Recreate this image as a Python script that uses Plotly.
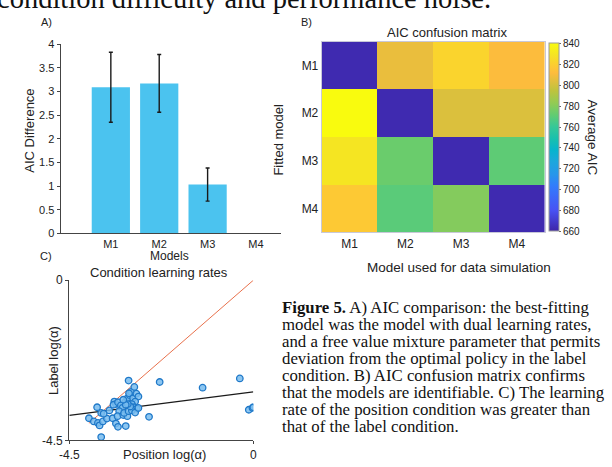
import plotly.graph_objects as go

W, H = 612, 467

# ---------------- data ----------------
models = ["M1", "M2", "M3", "M4"]
aic_diff = [3.09, 3.17, 1.03, 0.0]
aic_err = [0.74, 0.61, 0.35, None]

fitted_models = ["M1", "M2", "M3", "M4"]
sim_models = ["M1", "M2", "M3", "M4"]
aic_matrix = [
    [662, 806, 822, 811],
    [840, 662, 802, 802],
    [829, 773, 662, 770],
    [817, 769, 779, 662],
]
cbar_ticks = [660, 680, 700, 720, 740, 760, 780, 800, 820, 840]

position_log_alpha = [
    -3.05, -2.29, -1.24, -0.33, -0.11, -0.02, 0.00, -2.55, -3.72, -4.02,
    -3.82, -3.90, -3.80, -3.76, -3.68, -3.58, -3.72, -3.66, -3.52, -3.44,
    -3.36, -3.31, -3.12, -3.40, -3.36, -3.42, -3.31, -3.24, -3.20, -3.28,
    -3.32, -3.18, -3.08, -3.16, -3.05, -3.12, -3.08, -3.02, -2.99, -3.04,
    -2.91, -2.94, -2.86, -2.81, -2.89, -2.97, -2.91, -2.85, -2.97, -3.01,
    -3.07, -3.12, -3.18, -2.89, -2.81,
]
label_log_alpha = [
    -2.82, -2.86, -3.02, -2.76, -3.64, -3.59, -3.57, -3.84, -4.41, -3.88,
    -3.57, -3.97, -4.01, -4.08, -3.97, -3.89, -3.73, -3.75, -3.66, -3.88,
    -4.03, -4.12, -4.10, -3.41, -3.48, -3.50, -3.43, -3.52, -3.59, -3.68,
    -3.82, -3.79, -3.82, -3.73, -3.68, -3.41, -3.32, -3.23, -3.14, -3.18,
    -3.00, -3.32, -3.19, -3.27, -3.41, -3.48, -3.57, -3.61, -3.66, -3.55,
    -3.48, -3.50, -3.36, -3.72, -3.59,
]
fit_slope = 0.147
fit_intercept = -3.14
scatter_range = [-4.5, 0.0]

caption_lines = [
    "<b>Figure 5.</b> A) AIC comparison: the best-fitting",
    "model was the model with dual learning rates,",
    "and a free value mixture parameter that permits",
    "deviation from the optimal policy in the label",
    "condition. B) AIC confusion matrix confirms",
    "that the models are identifiable. C) The learning",
    "rate of the position condition was greater than",
    "that of the label condition.",
]
header_text = "condition difficulty and performance noise."

# ---------------- helpers ----------------
def px_x(x):
    return x / W

def px_y(y):
    return 1 - y / H

SANS = "Liberation Sans, Arial, sans-serif"
SERIF = "Liberation Serif, Times New Roman, serif"
AX = "#444444"
TXT = "#222222"

parula = [
    [0.00, "rgb(62,38,168)"],
    [0.11, "rgb(72,82,244)"],
    [0.24, "rgb(50,124,252)"],
    [0.30, "rgb(39,150,235)"],
    [0.37, "rgb(28,167,220)"],
    [0.43, "rgb(7,180,205)"],
    [0.49, "rgb(24,192,174)"],
    [0.556, "rgb(55,200,151)"],
    [0.62, "rgb(100,204,112)"],
    [0.68, "rgb(146,203,84)"],
    [0.746, "rgb(190,195,61)"],
    [0.84, "rgb(253,188,61)"],
    [0.873, "rgb(253,201,52)"],
    [0.937, "rgb(245,228,35)"],
    [1.00, "rgb(249,251,14)"],
]

fig = go.Figure()

# ---------------- panel A: bars ----------------
fig.add_trace(go.Bar(
    x=models, y=aic_diff, width=0.79,
    marker=dict(color="#4BC3EF", line=dict(width=0)),
    xaxis="x", yaxis="y", showlegend=False,
))
err_models = [m for m, e in zip(models, aic_err) if e is not None]
err_means = [v for v, e in zip(aic_diff, aic_err) if e is not None]
err_vals = [e for e in aic_err if e is not None]
fig.add_trace(go.Scatter(
    x=err_models, y=err_means, mode="markers",
    marker=dict(size=1, color="rgba(0,0,0,0)"),
    error_y=dict(type="data", array=err_vals, symmetric=True,
                 color="#1a1a1a", thickness=1.4, width=2),
    xaxis="x", yaxis="y", showlegend=False,
))

# ---------------- panel B: heatmap ----------------
fig.add_trace(go.Heatmap(
    x=sim_models, y=fitted_models, z=aic_matrix,
    zmin=660, zmax=840, colorscale=parula,
    xaxis="x2", yaxis="y2",
    colorbar=dict(
        thickness=10, thicknessmode="pixels",
        len=194 / H, lenmode="fraction",
        x=px_x(551.5), xanchor="left", xpad=0,
        y=px_y(134.5), yanchor="middle", ypad=0,
        outlinecolor="#9a9a9a", outlinewidth=1,
        tickvals=cbar_ticks, ticks="outside", ticklen=2, tickcolor="#666",
        tickfont=dict(family=SANS, size=10, color=TXT),
    ),
))

# ---------------- panel C: scatter ----------------
fig.add_trace(go.Scatter(
    x=[min(position_log_alpha), max(position_log_alpha)],
    y=[min(position_log_alpha), max(position_log_alpha)],
    mode="lines", line=dict(color="#E8714C", width=1),
    xaxis="x3", yaxis="y3", showlegend=False,
))
fig.add_trace(go.Scatter(
    x=scatter_range,
    y=[fit_intercept + fit_slope * v for v in scatter_range],
    mode="lines", line=dict(color="#1a1a1a", width=1.3),
    xaxis="x3", yaxis="y3", showlegend=False,
))
fig.add_trace(go.Scatter(
    x=position_log_alpha, y=label_log_alpha, mode="markers",
    marker=dict(size=6.5, color="rgba(120,188,238,0.85)",
                line=dict(color="#1F78C8", width=1.3)),
    xaxis="x3", yaxis="y3", showlegend=False,
))

tickfont = dict(family=SANS, size=11, color=TXT)

fig.update_layout(
    width=W, height=H, autosize=False,
    margin=dict(l=0, r=0, t=0, b=0, pad=0),
    paper_bgcolor="white", plot_bgcolor="white",
    showlegend=False,
    # A
    xaxis=dict(domain=[px_x(51.7), px_x(277)], range=[-1.04, 3.51],
               showline=True, linecolor=AX, linewidth=1, ticks="",
               showgrid=False, zeroline=False, tickfont=tickfont,
               anchor="y", fixedrange=True),
    yaxis=dict(domain=[px_y(233.3), px_y(38.3)], range=[0, 4],
               tickvals=[0, 0.5, 1, 1.5, 2, 2.5, 3, 3.5, 4],
               showline=True, linecolor=AX, linewidth=1,
               ticks="outside", ticklen=3, tickcolor=AX,
               showgrid=False, zeroline=False, tickfont=tickfont,
               anchor="x", fixedrange=True),
    # B
    xaxis2=dict(domain=[px_x(319), px_x(547.3)], anchor="y2",
                showline=True, mirror=True, linecolor="#c8c8d8", linewidth=1,
                ticks="", showgrid=False, zeroline=False,
                tickfont=dict(family=SANS, size=12, color=TXT)),
    yaxis2=dict(domain=[px_y(232.3), px_y(35.7)], anchor="x2",
                autorange="reversed",
                showline=True, mirror=True, linecolor="#c8c8d8", linewidth=1,
                ticks="", showgrid=False, zeroline=False,
                tickfont=dict(family=SANS, size=12, color=TXT)),
    # C
    xaxis3=dict(domain=[px_x(60.7), px_x(249)], anchor="y3",
                range=scatter_range, tickvals=scatter_range,
                ticktext=["-4.5", "0"],
                showline=True, linecolor=AX, linewidth=1.2,
                ticks="outside", ticklen=3, tickcolor=AX,
                showgrid=False, zeroline=False,
                tickfont=dict(family=SANS, size=12, color=TXT)),
    yaxis3=dict(domain=[px_y(446.7), px_y(281.7)], anchor="x3",
                range=scatter_range, tickvals=scatter_range,
                ticktext=["-4.5", "0"],
                showline=True, linecolor=AX, linewidth=1.2,
                ticks="outside", ticklen=3, tickcolor=AX,
                showgrid=False, zeroline=False,
                tickfont=dict(family=SANS, size=12, color=TXT)),
)

ann = []

def text(x, y, s, size, family=SANS, angle=0, xanchor="center",
         yanchor="middle", color=TXT):
    ann.append(dict(x=px_x(x), y=px_y(y), xref="paper", yref="paper",
                    text=s, showarrow=False, textangle=angle,
                    xanchor=xanchor, yanchor=yanchor,
                    font=dict(family=family, size=size, color=color)))

# header (partially cut at top)
text(-15, -9, header_text, 28.5, family=SERIF, xanchor="left", color="#111")
# panel labels
text(37.5, 15, "A)", 11)
text(303, 15, "B)", 11)
text(37, 257, "C)", 11)
# A titles
text(20, 128, "AIC Difference", 13, angle=-90)
text(163, 257, "Models", 12)
# B titles
text(447, 26, "AIC confusion matrix", 13)
text(275, 137, "Fitted model", 13, angle=-90)
text(459, 269, "Model used for data simulation", 13.5)
text(596, 135, "Average AIC", 13.5, angle=90)
# C titles
text(152.5, 274, "Condition learning rates", 13)
text(44, 364, "Label log(α)", 13, angle=-90)
text(158, 461.5, "Position log(α)", 13)
# caption
for i, line in enumerate(caption_lines):
    text(276, 309.5 + i * 17.6, line, 16.8, family=SERIF, xanchor="left",
         color="#111")

fig.update_layout(annotations=ann)

fig.write_html("out.html", config={"displayModeBar": False},
               post_script="document.body.style.margin='0';")
